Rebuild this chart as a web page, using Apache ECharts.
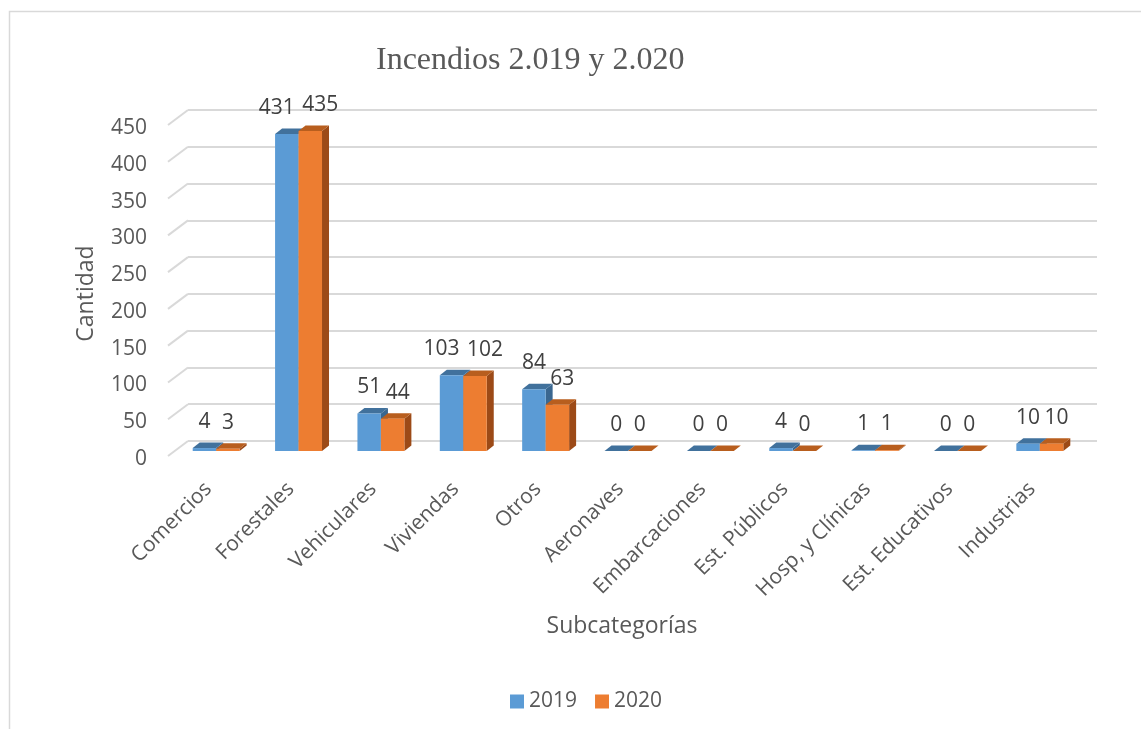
<!DOCTYPE html>
<html>
<head>
<meta charset="utf-8">
<script src="https://cdn.jsdelivr.net/npm/echarts@6/dist/echarts.min.js"></script>
<style>
	html, body { margin: 0; padding: 0; background: #fff; }
	#chart { width: 1141px; height: 729px; }
</style>
</head>
<body>
<div id="chart"></div>
<script>
const categories = ["Comercios", "Forestales", "Vehiculares", "Viviendas", "Otros", "Aeronaves", "Embarcaciones", "Est. Públicos", "Hosp, y Clínicas", "Est. Educativos", "Industrias"];
const values2019 = [4, 431, 51, 103, 84, 0, 0, 4, 1, 0, 10];
const values2020 = [3, 435, 44, 102, 63, 0, 0, 0, 1, 0, 10];
const yTicks = [0, 50, 100, 150, 200, 250, 300, 350, 400, 450];

const textColor = "#595959";
const gridColor = "#d9d9d9";

// draws one 3D-looking bar: front face, top and right side
function barRenderer(side, frontCol, topCol, sideCol) {
	return function(params, api) {
		let i = api.value(0);
		let v = api.value(1);
		let pTop = api.coord([i, v]);
		let pBase = api.coord([i, 0]);
		let band = api.size([1, 0])[0];
		let w = band * 0.285;
		let x0 = side === 0 ? pTop[0] - w : pTop[0];
		let x1 = x0 + w;
		let yT = pTop[1];
		let yB = pBase[1];
		let dx = 7, dy = -5.5;
		let len = String(v).length;
		let shift = side === 0 ? (len >= 3 ? -10 : 0) : (len - 1) * 5;
		return {
			type: "group",
			children: [
				{
					type: "polygon",
					shape: { points: [[x1, yB], [x1, yT], [x1 + dx, yT + dy], [x1 + dx, yB + dy]] },
					style: { fill: sideCol }
				},
				{
					type: "polygon",
					shape: { points: [[x0, yT], [x1, yT], [x1 + dx, yT + dy], [x0 + dx, yT + dy]] },
					style: { fill: topCol }
				},
				{
					type: "rect",
					shape: { x: x0, y: yT, width: w, height: Math.max(yB - yT, 0) },
					style: { fill: frontCol }
				},
				{
					type: "text",
					style: {
						text: String(v),
						x: (x0 + x1) / 2 + shift,
						y: yT - 26,
						align: "center",
						verticalAlign: "middle",
						fill: "#404040",
						font: "21px 'Open Sans'"
					}
				}
			]
		};
	};
}

let chart = echarts.init(document.getElementById("chart"));

let option = {
	animation: false,
	textStyle: { fontFamily: "Open Sans" },
	graphic: [
		{
			type: "rect",
			shape: { x: 9.5, y: 11.5, width: 1300, height: 900 },
			style: { fill: null, stroke: gridColor, lineWidth: 1.5 },
			silent: true
		}
	],
	title: {
		text: "Incendios 2.019 y 2.020",
		left: 371,
		top: 40,
		textStyle: {
			fontFamily: "Liberation Serif",
			fontWeight: "normal",
			fontSize: 32,
			color: textColor
		}
	},
	legend: {
		top: 686,
		left: 505,
		icon: "rect",
		itemWidth: 14,
		itemHeight: 14,
		itemGap: 18,
		textStyle: { fontSize: 21, color: textColor },
		data: ["2019", "2020"]
	},
	grid: [
		// plane of the bars
		{ left: 175, right: 60, top: 120, bottom: 278 },
		// back wall
		{ left: 188, right: 44, top: 110, bottom: 288 },
		// front edge of the side wall, carries the value labels
		{ left: 168, right: 64, top: 128, bottom: 270 }
	],
	xAxis: [
		{
			type: "category",
			gridIndex: 0,
			data: categories,
			axisLine: { show: false },
			axisTick: { show: false },
			axisLabel: {
				rotate: 45,
				margin: 27,
				padding: [0, 11, 0, 0],
				interval: 0,
				fontSize: 21,
				color: textColor
			},
			name: "Subcategorías",
			nameLocation: "middle",
			nameGap: 164,
			nameTextStyle: { fontSize: 23, color: textColor, padding: [0, 12, 0, 0] }
		},
		{ type: "value", gridIndex: 1, min: 0, max: 1, show: false },
		{ type: "value", gridIndex: 2, min: 0, max: 1, show: false }
	],
	yAxis: [
		{
			type: "value",
			gridIndex: 0,
			min: 0,
			max: 450,
			interval: 50,
			show: false
		},
		{
			type: "value",
			gridIndex: 1,
			min: 0,
			max: 450,
			interval: 50,
			axisLine: { show: false },
			axisTick: { show: false },
			axisLabel: { show: false },
			splitLine: { lineStyle: { color: gridColor, width: 2 } }
		},
		{
			type: "value",
			gridIndex: 2,
			min: 0,
			max: 450,
			interval: 50,
			splitLine: { show: false },
			axisLine: { show: false },
			axisTick: { show: false },
			axisLabel: { margin: 21, fontSize: 21, color: textColor },
			name: "Cantidad",
			nameLocation: "middle",
			nameGap: 70,
			nameTextStyle: { fontSize: 23, color: textColor }
		}
	],
	series: [
		{
			// side wall ticks going from back wall to the front
			type: "custom",
			xAxisIndex: 1,
			yAxisIndex: 1,
			silent: true,
			z: 1,
			data: yTicks.map(t => [0, t]),
			renderItem: function(params, api) {
				let p = api.coord([0, api.value(1)]);
				return {
					type: "line",
					shape: { x1: p[0], y1: p[1], x2: p[0] - 20, y2: p[1] + 15 },
					style: { stroke: gridColor, lineWidth: 2 }
				};
			}
		},
		{
			name: "2019",
			type: "custom",
			xAxisIndex: 0,
			yAxisIndex: 0,
			z: 3,
			itemStyle: { color: "#5B9BD5" },
			data: values2019.map((v, i) => [i, v]),
			renderItem: barRenderer(0, "#5B9BD5", "#41719C", "#3A6790")
		},
		{
			name: "2020",
			type: "custom",
			xAxisIndex: 0,
			yAxisIndex: 0,
			z: 4,
			itemStyle: { color: "#ED7D31" },
			data: values2020.map((v, i) => [i, v]),
			renderItem: barRenderer(1, "#ED7D31", "#B85E1E", "#9C4A17")
		}
	]
};

chart.setOption(option);
</script>
</body>
</html>
